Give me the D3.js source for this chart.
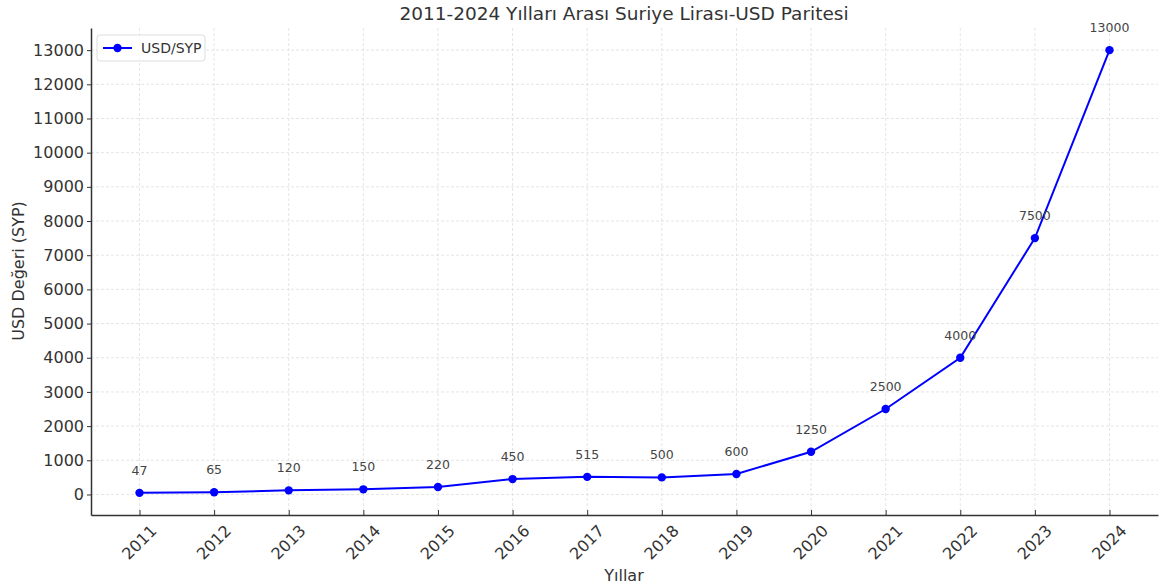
<!DOCTYPE html>
<html>
<head>
<meta charset="utf-8">
<script src="https://cdn.jsdelivr.net/npm/d3@7"></script>
<style>
body { margin: 0; background: #fff; }
text { font-family: "DejaVu Sans", sans-serif; fill: #333; }
</style>
</head>
<body>
<svg id="chart" width="1160" height="586"></svg>
<script>
var years = [2011, 2012, 2013, 2014, 2015, 2016, 2017, 2018, 2019, 2020, 2021, 2022, 2023, 2024];
var rates = [47, 65, 120, 150, 220, 450, 515, 500, 600, 1250, 2500, 4000, 7500, 13000];
var yTicks = d3.range(0, 13001, 1000);

var margin = {left: 91, right: 2, top: 28, bottom: 71};
var width = 1160, height = 586;
var svg = d3.select('#chart');

var x = d3.scaleLinear().domain([2010.35, 2024.65]).range([margin.left, width - margin.right]);
var y = d3.scaleLinear().domain([-600.6, 13647.6]).range([height - margin.bottom, margin.top]);

// grid
svg.append('g').selectAll('line').data(years).join('line')
	.attr('x1', d => x(d)).attr('x2', d => x(d))
	.attr('y1', margin.top).attr('y2', height - margin.bottom)
	.attr('stroke', '#dedede').attr('stroke-width', 0.8).attr('stroke-dasharray', '3,2');
svg.append('g').selectAll('line').data(yTicks).join('line')
	.attr('x1', margin.left).attr('x2', width - margin.right)
	.attr('y1', d => y(d)).attr('y2', d => y(d))
	.attr('stroke', '#dedede').attr('stroke-width', 0.8).attr('stroke-dasharray', '3,2');

// axes
var xAxis = svg.append('g')
	.attr('transform', 'translate(0,' + (height - margin.bottom) + ')')
	.call(d3.axisBottom(x).tickValues(years).tickFormat(d3.format('d')).tickSizeInner(-5).tickSizeOuter(0));
xAxis.selectAll('text')
	.attr('font-size', 16)
	.attr('text-anchor', 'middle')
	.attr('dy', null)
	.attr('x', 0).attr('y', 0)
	.attr('dominant-baseline', 'middle')
	.attr('transform', 'translate(0,28) rotate(-45)');

var yAxis = svg.append('g')
	.attr('transform', 'translate(' + margin.left + ',0)')
	.call(d3.axisLeft(y).tickValues(yTicks).tickFormat(d3.format('d')).tickSizeInner(4).tickSizeOuter(0));
yAxis.selectAll('text').attr('font-size', 16).attr('x', -7);

svg.selectAll('.domain').attr('stroke', '#333').attr('stroke-width', 1.5);
svg.selectAll('.tick line').attr('stroke', '#333');

// line
var line = d3.line().x((d, i) => x(years[i])).y(d => y(d));
svg.append('path').datum(rates)
	.attr('d', line)
	.attr('fill', 'none')
	.attr('stroke', '#0000ff')
	.attr('stroke-width', 2);

svg.append('g').selectAll('circle').data(rates).join('circle')
	.attr('cx', (d, i) => x(years[i]))
	.attr('cy', d => y(d))
	.attr('r', 4.2)
	.attr('fill', '#0000ff');

svg.append('g').selectAll('text').data(rates).join('text')
	.attr('x', (d, i) => x(years[i]))
	.attr('y', d => y(d) - 18)
	.attr('text-anchor', 'middle')
	.attr('font-size', 12.5)
	.style('fill', '#444')
	.text(d => d);

// legend
var legend = svg.append('g').attr('transform', 'translate(97,35)');
legend.append('rect')
	.attr('width', 108).attr('height', 26).attr('rx', 3)
	.attr('fill', '#fff').attr('fill-opacity', 0.8)
	.attr('stroke', '#ddd');
legend.append('line')
	.attr('x1', 6).attr('x2', 35).attr('y1', 13).attr('y2', 13)
	.attr('stroke', '#0000ff').attr('stroke-width', 2);
legend.append('circle').attr('cx', 20.5).attr('cy', 13).attr('r', 4.2).attr('fill', '#0000ff');
legend.append('text').attr('x', 44).attr('y', 18).attr('font-size', 14).text('USD/SYP');

// titles
svg.append('text')
	.attr('x', 624).attr('y', 20)
	.attr('text-anchor', 'middle')
	.attr('font-size', 18.5)
	.text('2011-2024 Yılları Arası Suriye Lirası-USD Paritesi');

svg.append('text')
	.attr('x', 624).attr('y', 581)
	.attr('text-anchor', 'middle')
	.attr('font-size', 16)
	.text('Yıllar');

svg.append('text')
	.attr('transform', 'translate(24,271) rotate(-90)')
	.attr('text-anchor', 'middle')
	.attr('font-size', 16)
	.text('USD Değeri (SYP)');
</script>
</body>
</html>
